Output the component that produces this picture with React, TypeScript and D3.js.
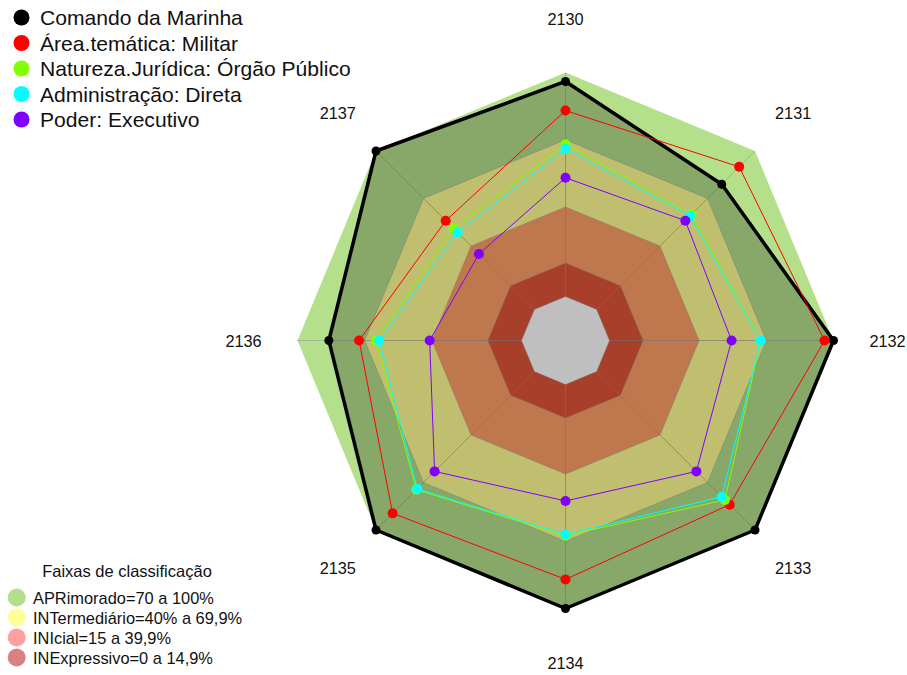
import React from 'react';
import * as d3 from 'd3';

const axes = ['2130', '2131', '2132', '2133', '2134', '2135', '2136', '2137'];

const seriesNames = [
  'Comando da Marinha',
  'Área.temática: Militar',
  'Natureza.Jurídica: Órgão Público',
  'Administração: Direta',
  'Poder: Executivo',
];
const seriesColors = ['#000000', '#ff0000', '#80ff00', '#00ffff', '#8000ff'];

const comando = [96, 79, 100, 100, 100, 100, 86, 100];
const militar = [83, 90, 96, 84, 87, 89.5, 72.5, 56];
const orgaoPublico = [68, 60, 67.5, 81, 67.5, 74.5, 65, 51];
const direta = [66, 59, 67.5, 79, 67, 74, 63.5, 48.5];
const executivo = [53, 56, 54.5, 63, 52, 63, 41, 35];
const seriesValues = [comando, militar, orgaoPublico, direta, executivo];

// bands (upper limits) and their colours
const bandLimits = [100, 70, 40, 15, 0];
const bandColors = ['#b5e08b', '#ffff95', '#ffa068', '#e05538', '#ffffff'];
const bandLabels = [
  'APRimorado=70 a 100%',
  'INTermediário=40% a 69,9%',
  'INIcial=15 a 39,9%',
  'INExpressivo=0 a 14,9%',
];
const bandLegendColors = ['#b3de8c', '#ffff99', '#ffa0a0', '#d98080'];

const W = 907;
const H = 675;
const cx = 565.5;
const cy = 340.5;

export default function App() {
  const r = d3.scaleLinear().domain([0, 100]).range([44, 268]);
  const angle = d3
    .scaleLinear()
    .domain([0, axes.length])
    .range([-Math.PI / 2, (3 * Math.PI) / 2]);

  const pt = (i: number, v: number): [number, number] => [
    cx + r(v) * Math.cos(angle(i)),
    cy + r(v) * Math.sin(angle(i)),
  ];
  const line = d3.line().curve(d3.curveLinearClosed);

  const ring = (v: number) => line(axes.map((_, i) => pt(i, v))) as string;
  const font = 'Liberation Sans, Arial, sans-serif';

  return (
    <svg
      width={W}
      height={H}
      style={{ position: 'absolute', left: 0, top: 0, background: '#fff' }}
      fontFamily={font}
    >
      {/* classification bands */}
      {bandLimits.map((b, i) => (
        <path key={'band' + i} d={ring(b)} fill={bandColors[i]} stroke="none" />
      ))}
      {/* spokes */}
      {axes.map((_, i) => {
        const [x0, y0] = pt(i, 0);
        const [x1, y1] = pt(i, 100);
        return (
          <line key={'sp' + i} x1={x0} y1={y0} x2={x1} y2={y1} stroke="#9a9a9a" strokeWidth={1} opacity={0.6} />
        );
      })}
      {[0, 15, 40, 70].map((b) => (
        <path key={'g' + b} d={ring(b)} fill="none" stroke="#9a9a9a" strokeWidth={0.8} opacity={0.5} />
      ))}

      {/* series */}
      {seriesValues.map((vals, s) => {
        const pts = vals.map((v, i) => pt(i, v));
        return (
          <g key={'s' + s}>
            <path
              d={line(pts) as string}
              fill={s === 0 ? 'rgba(0,0,0,0.25)' : 'none'}
              stroke={seriesColors[s]}
              strokeWidth={s === 0 ? 3.5 : 1}
              strokeLinejoin="round"
            />
            {pts.map((p, i) => (
              <circle key={i} cx={p[0]} cy={p[1]} r={s === 0 ? 4.5 : 5} fill={seriesColors[s]} />
            ))}
          </g>
        );
      })}

      {/* axis labels */}
      {axes.map((a, i) => {
        const rr = r(100) + 54;
        const x = cx + rr * Math.cos(angle(i));
        const y = cy + rr * Math.sin(angle(i));
        return (
          <text key={'ax' + i} x={x} y={y} textAnchor="middle" dominantBaseline="central" fontSize={16.3} fill="#111">
            {a}
          </text>
        );
      })}

      {/* series legend */}
      {seriesNames.map((n, i) => (
        <g key={'lg' + i} transform={`translate(0, ${17.5 + i * 25.5})`}>
          <circle cx={21.5} cy={0} r={8} fill={seriesColors[i]} />
          <text x={40} y={0} dominantBaseline="central" fontSize={21.1} fill="#111">
            {n}
          </text>
        </g>
      ))}

      {/* bands legend */}
      <text x={127} y={571} textAnchor="middle" dominantBaseline="central" fontSize={16.5} fill="#111">
        Faixas de classificação
      </text>
      {bandLabels.map((n, i) => (
        <g key={'bl' + i} transform={`translate(0, ${597.5 + i * 20})`}>
          <circle cx={16.7} cy={0} r={9} fill={bandLegendColors[i]} />
          <text x={33} y={0} dominantBaseline="central" fontSize={16.4} fill="#111">
            {n}
          </text>
        </g>
      ))}
    </svg>
  );
}
